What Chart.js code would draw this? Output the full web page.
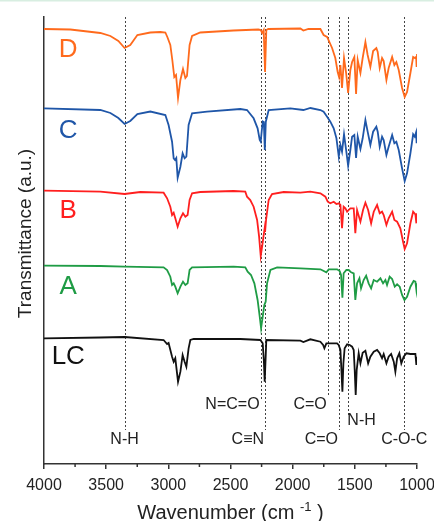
<!DOCTYPE html>
<html><head><meta charset="utf-8">
<script src="https://cdn.jsdelivr.net/npm/chart.js@4/dist/chart.umd.min.js"></script>
<style>html,body{margin:0;padding:0;background:#fff;}#wrap{width:434px;height:521px;position:relative;}</style>
</head><body><div id="wrap"><canvas id="c"></canvas></div>
<script>
// ---- data (wavenumber in cm-1, transmittance in offset arbitrary units) ----
const waveD = [4000,3788,3547,3466,3402,3352,3306,3249,3145,3064,3024,3008,2984,2968,2952,2938,2922,2903,2882,2863,2850,2829,2809,2743,2477,2276,2257,2246,2233,2222,2212,2196,1938,1914,1873,1777,1751,1723,1683,1657,1638,1627,1616,1603,1587,1570,1554,1536,1522,1504,1490,1477,1455,1437,1415,1397,1375,1353,1327,1316,1300,1281,1268,1246,1228,1200,1182,1166,1147,1120,1099,1080,1053,1031,1018,1007,1003,1000];
const valD = [43.5,43.45,43.1,42.8,42.3,41.6,41.9,42.9,43.15,43.2,43.15,42.7,41.9,40.4,38.7,38.9,36.6,38.4,39.5,38.6,38.8,41.9,42.8,43.15,43.35,43.45,43.4,43.1,43.4,39.2,43.4,43.5,43.55,43.35,43.5,43.5,42.9,42.7,41.6,40.6,39.2,38.7,39.9,37.6,40.6,39.1,37.1,39.4,40.2,40.7,37.0,40.4,39.1,40.6,42.2,40.9,39.7,41.3,41.6,41.2,39.6,40.6,40.3,38.4,39.6,40.7,39.9,40.2,39.4,37.6,36.7,37.2,39.1,40.7,40.6,40.7,39.7,41.0];

const waveC = [4000,3547,3466,3402,3352,3306,3249,3145,3024,2998,2970,2957,2946,2936,2925,2903,2885,2869,2855,2837,2809,2689,2421,2367,2314,2282,2265,2257,2248,2240,2232,2224,2216,2193,2019,1914,1857,1777,1751,1723,1697,1670,1648,1629,1616,1603,1587,1570,1554,1536,1522,1504,1490,1477,1455,1437,1415,1397,1375,1353,1327,1316,1300,1281,1268,1246,1228,1200,1182,1166,1147,1120,1099,1080,1053,1031,1018,1007,1003,1000];
const valC = [35.57,35.4,35.1,34.6,34.0,34.3,35.0,35.25,34.9,33.9,32.23,30.57,30.4,30.6,28.63,29.73,31.07,30.57,30.73,33.9,35.07,35.23,35.5,35.4,34.57,33.57,32.4,32.23,33.4,34.25,34.2,31.4,34.23,35.4,35.57,35.4,35.6,35.4,35.23,34.73,34.23,33.57,32.57,30.73,31.9,31.23,32.97,31.4,29.83,31.4,32.73,32.9,30.6,32.73,31.5,32.57,34.4,33.23,31.9,33.23,33.73,33.23,31.73,32.73,32.4,30.9,31.73,32.9,32.07,32.23,31.4,29.57,28.3,29.07,31.07,32.97,32.73,33.17,32.07,33.23];

const waveB = [4000,3547,3352,3225,3038,3010,2984,2970,2957,2944,2925,2903,2882,2863,2845,2829,2809,2743,2475,2381,2367,2341,2314,2286,2270,2257,2244,2233,2225,2222,2214,2193,2166,2072,1938,1858,1777,1737,1718,1697,1670,1648,1629,1616,1603,1590,1576,1562,1549,1536,1509,1496,1482,1455,1434,1415,1393,1369,1348,1321,1300,1281,1268,1246,1228,1200,1182,1160,1134,1112,1099,1080,1053,1031,1013,1005,1000];
const valB = [27.33,27.23,27.0,27.2,27.13,26.57,25.73,24.9,25.13,24.57,23.73,24.57,25.07,24.73,24.9,26.4,27.07,27.2,27.3,27.23,26.73,26.4,25.73,24.4,22.73,20.8,21.9,22.9,23.6,23.2,24.4,26.4,27.0,27.2,27.13,27.23,27.07,26.73,26.23,26.07,26.23,26.0,26.07,25.9,23.57,25.73,25.57,25.23,25.4,25.57,25.57,23.07,25.4,24.23,25.4,26.13,25.4,24.07,25.23,25.9,25.07,25.23,24.9,23.9,24.57,25.23,24.4,24.23,23.57,22.23,21.5,22.07,24.07,25.23,24.97,24.07,25.07];

const waveA = [4000,3547,3352,3038,3010,2984,2970,2957,2944,2925,2903,2882,2863,2845,2829,2809,2475,2381,2362,2335,2308,2282,2265,2254,2241,2228,2217,2206,2179,2125,1938,1777,1729,1710,1643,1622,1611,1600,1590,1568,1549,1530,1509,1496,1482,1463,1450,1429,1409,1389,1369,1348,1321,1294,1273,1254,1241,1220,1200,1179,1160,1139,1120,1101,1080,1053,1027,1013,1005,1000];
const valA = [19.83,19.8,19.73,19.67,19.4,18.73,17.9,18.07,17.73,17.07,17.73,18.23,17.9,18.07,19.4,19.67,19.73,19.67,19.23,18.9,18.07,16.4,14.73,13.57,14.73,15.9,16.23,18.07,19.4,19.67,19.57,19.47,19.17,19.47,19.47,19.3,18.9,16.63,19.07,19.4,19.4,19.17,19.07,16.4,18.07,18.57,17.57,18.4,18.83,18.07,17.57,18.4,18.23,18.57,18.07,18.4,17.9,18.73,18.5,17.73,17.97,17.73,16.9,16.4,16.73,17.73,18.3,18.23,17.4,18.07];

const waveLC = [4000,3547,3352,3038,3010,2998,2970,2957,2944,2922,2903,2885,2869,2855,2837,2823,2796,2421,2260,2241,2232,2225,2218,2212,1938,1914,1858,1777,1755,1745,1729,1643,1630,1616,1608,1600,1592,1582,1562,1541,1522,1509,1501,1493,1485,1469,1455,1437,1415,1393,1375,1348,1321,1300,1281,1268,1246,1228,1208,1187,1174,1160,1142,1126,1107,1085,1053,1013,1005,1000];
const valLC = [12.57,12.65,12.7,12.4,12.0,12.1,10.73,10.23,10.57,8.23,9.23,10.9,10.23,9.73,11.57,12.4,12.5,12.5,12.4,12.07,10.4,8.23,10.4,12.4,12.33,12.2,12.47,12.23,11.9,11.57,12.07,12.07,11.9,11.4,9.4,7.23,10.07,11.57,11.97,11.9,11.73,11.4,9.4,6.9,9.4,11.07,10.07,11.13,11.33,10.07,10.73,11.23,11.4,11.07,10.57,11.0,10.07,10.73,11.0,10.23,9.23,10.57,11.07,10.07,10.73,11.07,11.0,11.0,9.9,10.73];

const seriesNames = ['D','C','B','A','LC'];
const seriesWaves = [waveD, waveC, waveB, waveA, waveLC];
const seriesVals = [valD, valC, valB, valA, valLC];

// series label anchor (wavenumber, a.u.)
const seriesLabelWave = 3805;
const seriesLabelLevel = [41.4, 33.3, 25.3, 17.7, 10.7];

// band assignments
const bandWave = [3352, 2258, 2222, 1718, 1627, 1552, 1102];
const bandLabel = ['N-H', 'N=C=O', 'C\u2261N', 'C=O', 'C=O', 'N-H', 'C-O-C'];
const bandLineEnd = [3.4, 6.4, 3.4, 6.7, 3.4, 4.9, 3.4];
const bandLabelLevel = [2.4, 5.9, 2.4, 5.9, 2.4, 4.3, 2.4];
const bandAlign = ['center', 'right', 'right', 'right', 'right', 'left', 'center'];

const xMin = 1000, xMax = 4000, xStep = 500;
const xMinorTicks = [3750, 3250, 2750, 2250, 1750, 1250];
const yMin = 0, yMax = 44.7;

// ---- styles ----
const FONT = 'Arial, "Liberation Sans", Helvetica, sans-serif';
const colors = ['#ff6a1c', '#1f56a8', '#ff1f1f', '#1f9c45', '#111111'];
const axisColor = '#333333';
const textColor = '#222222';

Chart.defaults.font.family = FONT;

const annot = {
  id: 'annot',
  beforeDraw(chart) {
    const ctx = chart.ctx;
    ctx.save();
    ctx.fillStyle = '#ffffff';
    ctx.fillRect(0, 0, chart.width, chart.height);
    ctx.fillStyle = '#d8eee1';
    ctx.fillRect(0, 0, chart.width, 1.5);
    ctx.restore();
  },
  beforeDatasetsDraw(chart) {
    const {ctx, chartArea} = chart;
    const xs = chart.scales.x, ys = chart.scales.y;
    ctx.save();
    ctx.strokeStyle = '#444';
    ctx.lineWidth = 1;
    ctx.setLineDash([2, 2]);
    bandWave.forEach((w, i) => {
      const px = Math.round(xs.getPixelForValue(w)) + 0.5;
      ctx.beginPath();
      ctx.moveTo(px, chartArea.top);
      ctx.lineTo(px, ys.getPixelForValue(bandLineEnd[i]));
      ctx.stroke();
    });
    ctx.restore();
  },
  afterDraw(chart) {
    const {ctx, chartArea} = chart;
    const xs = chart.scales.x, ys = chart.scales.y;
    ctx.save();
    // minor ticks
    ctx.strokeStyle = axisColor;
    ctx.lineWidth = 1.5;
    xMinorTicks.forEach(w => {
      const px = xs.getPixelForValue(w);
      ctx.beginPath();
      ctx.moveTo(px, chartArea.bottom);
      ctx.lineTo(px, chartArea.bottom + 3);
      ctx.stroke();
    });
    // band labels
    ctx.fillStyle = textColor;
    ctx.font = '16px ' + FONT;
    ctx.textBaseline = 'middle';
    bandWave.forEach((w, i) => {
      const px = xs.getPixelForValue(w);
      const al = bandAlign[i];
      ctx.textAlign = al;
      const dx = al === 'right' ? -1 : (al === 'left' ? -1 : 0);
      ctx.fillText(bandLabel[i], px + dx, ys.getPixelForValue(bandLabelLevel[i]));
    });
    // series labels
    ctx.font = '26px ' + FONT;
    ctx.textAlign = 'center';
    seriesNames.forEach((n, i) => {
      ctx.fillStyle = colors[i];
      ctx.fillText(n, xs.getPixelForValue(seriesLabelWave), ys.getPixelForValue(seriesLabelLevel[i]));
    });
    // y title
    ctx.fillStyle = textColor;
    ctx.font = '19px ' + FONT;
    ctx.save();
    ctx.translate(chartArea.left - 18, (chartArea.top + chartArea.bottom) / 2 - 7);
    ctx.rotate(-Math.PI / 2);
    ctx.textAlign = 'center';
    ctx.fillText('Transmittance (a.u.)', 0, 0);
    ctx.restore();
    // x title with superscript
    const main = 'Wavenumber (cm ', sup = '-1', tail = ' )';
    ctx.font = '20px ' + FONT;
    const wMain = ctx.measureText(main).width, wTail = ctx.measureText(tail).width;
    ctx.font = '13px ' + FONT;
    const wSup = ctx.measureText(sup).width;
    const cx = (chartArea.left + chartArea.right) / 2;
    const ty = chartArea.bottom + 48;
    let x0 = cx - (wMain + wSup + wTail) / 2;
    ctx.textAlign = 'left';
    ctx.textBaseline = 'alphabetic';
    ctx.font = '20px ' + FONT;
    ctx.fillText(main, x0, ty + 7);
    ctx.font = '13px ' + FONT;
    ctx.fillText(sup, x0 + wMain, ty - 1);
    ctx.font = '20px ' + FONT;
    ctx.fillText(tail, x0 + wMain + wSup, ty + 7);
    ctx.restore();
  }
};

const datasets = seriesNames.map((n, i) => ({
  label: n,
  data: seriesWaves[i].map((w, j) => ({x: w, y: seriesVals[i][j]})),
  borderColor: colors[i],
  borderWidth: 1.8,
  pointRadius: 0,
  fill: false,
  tension: 0
}));

new Chart(document.getElementById('c'), {
  type: 'line',
  data: {datasets},
  options: {
    responsive: true,
    maintainAspectRatio: false,
    animation: false,
    events: [],
    layout: {padding: {top: 17, right: 17, left: 0, bottom: 0}, autoPadding: false},
    plugins: {legend: {display: false}, tooltip: {enabled: false}},
    scales: {
      x: {
        type: 'linear', reverse: true, min: xMin, max: xMax,
        afterFit: s => { s.height = 57; s.paddingLeft = 0; s.paddingRight = 0; },
        ticks: {stepSize: xStep, autoSkip: false, maxRotation: 0, padding: 7,
          color: textColor, font: {size: 16, family: FONT}, callback: v => String(v)},
        grid: {drawOnChartArea: false, drawTicks: true, tickLength: 5, color: axisColor, lineWidth: 1.5},
        border: {display: true, color: axisColor, width: 1.5}
      },
      y: {
        type: 'linear', min: yMin, max: yMax,
        afterFit: s => { s.width = 44; s.paddingTop = 0; s.paddingBottom = 0; },
        ticks: {display: false},
        grid: {display: false},
        border: {display: true, color: axisColor, width: 1.5}
      }
    }
  },
  plugins: [annot]
});
</script></body></html>
